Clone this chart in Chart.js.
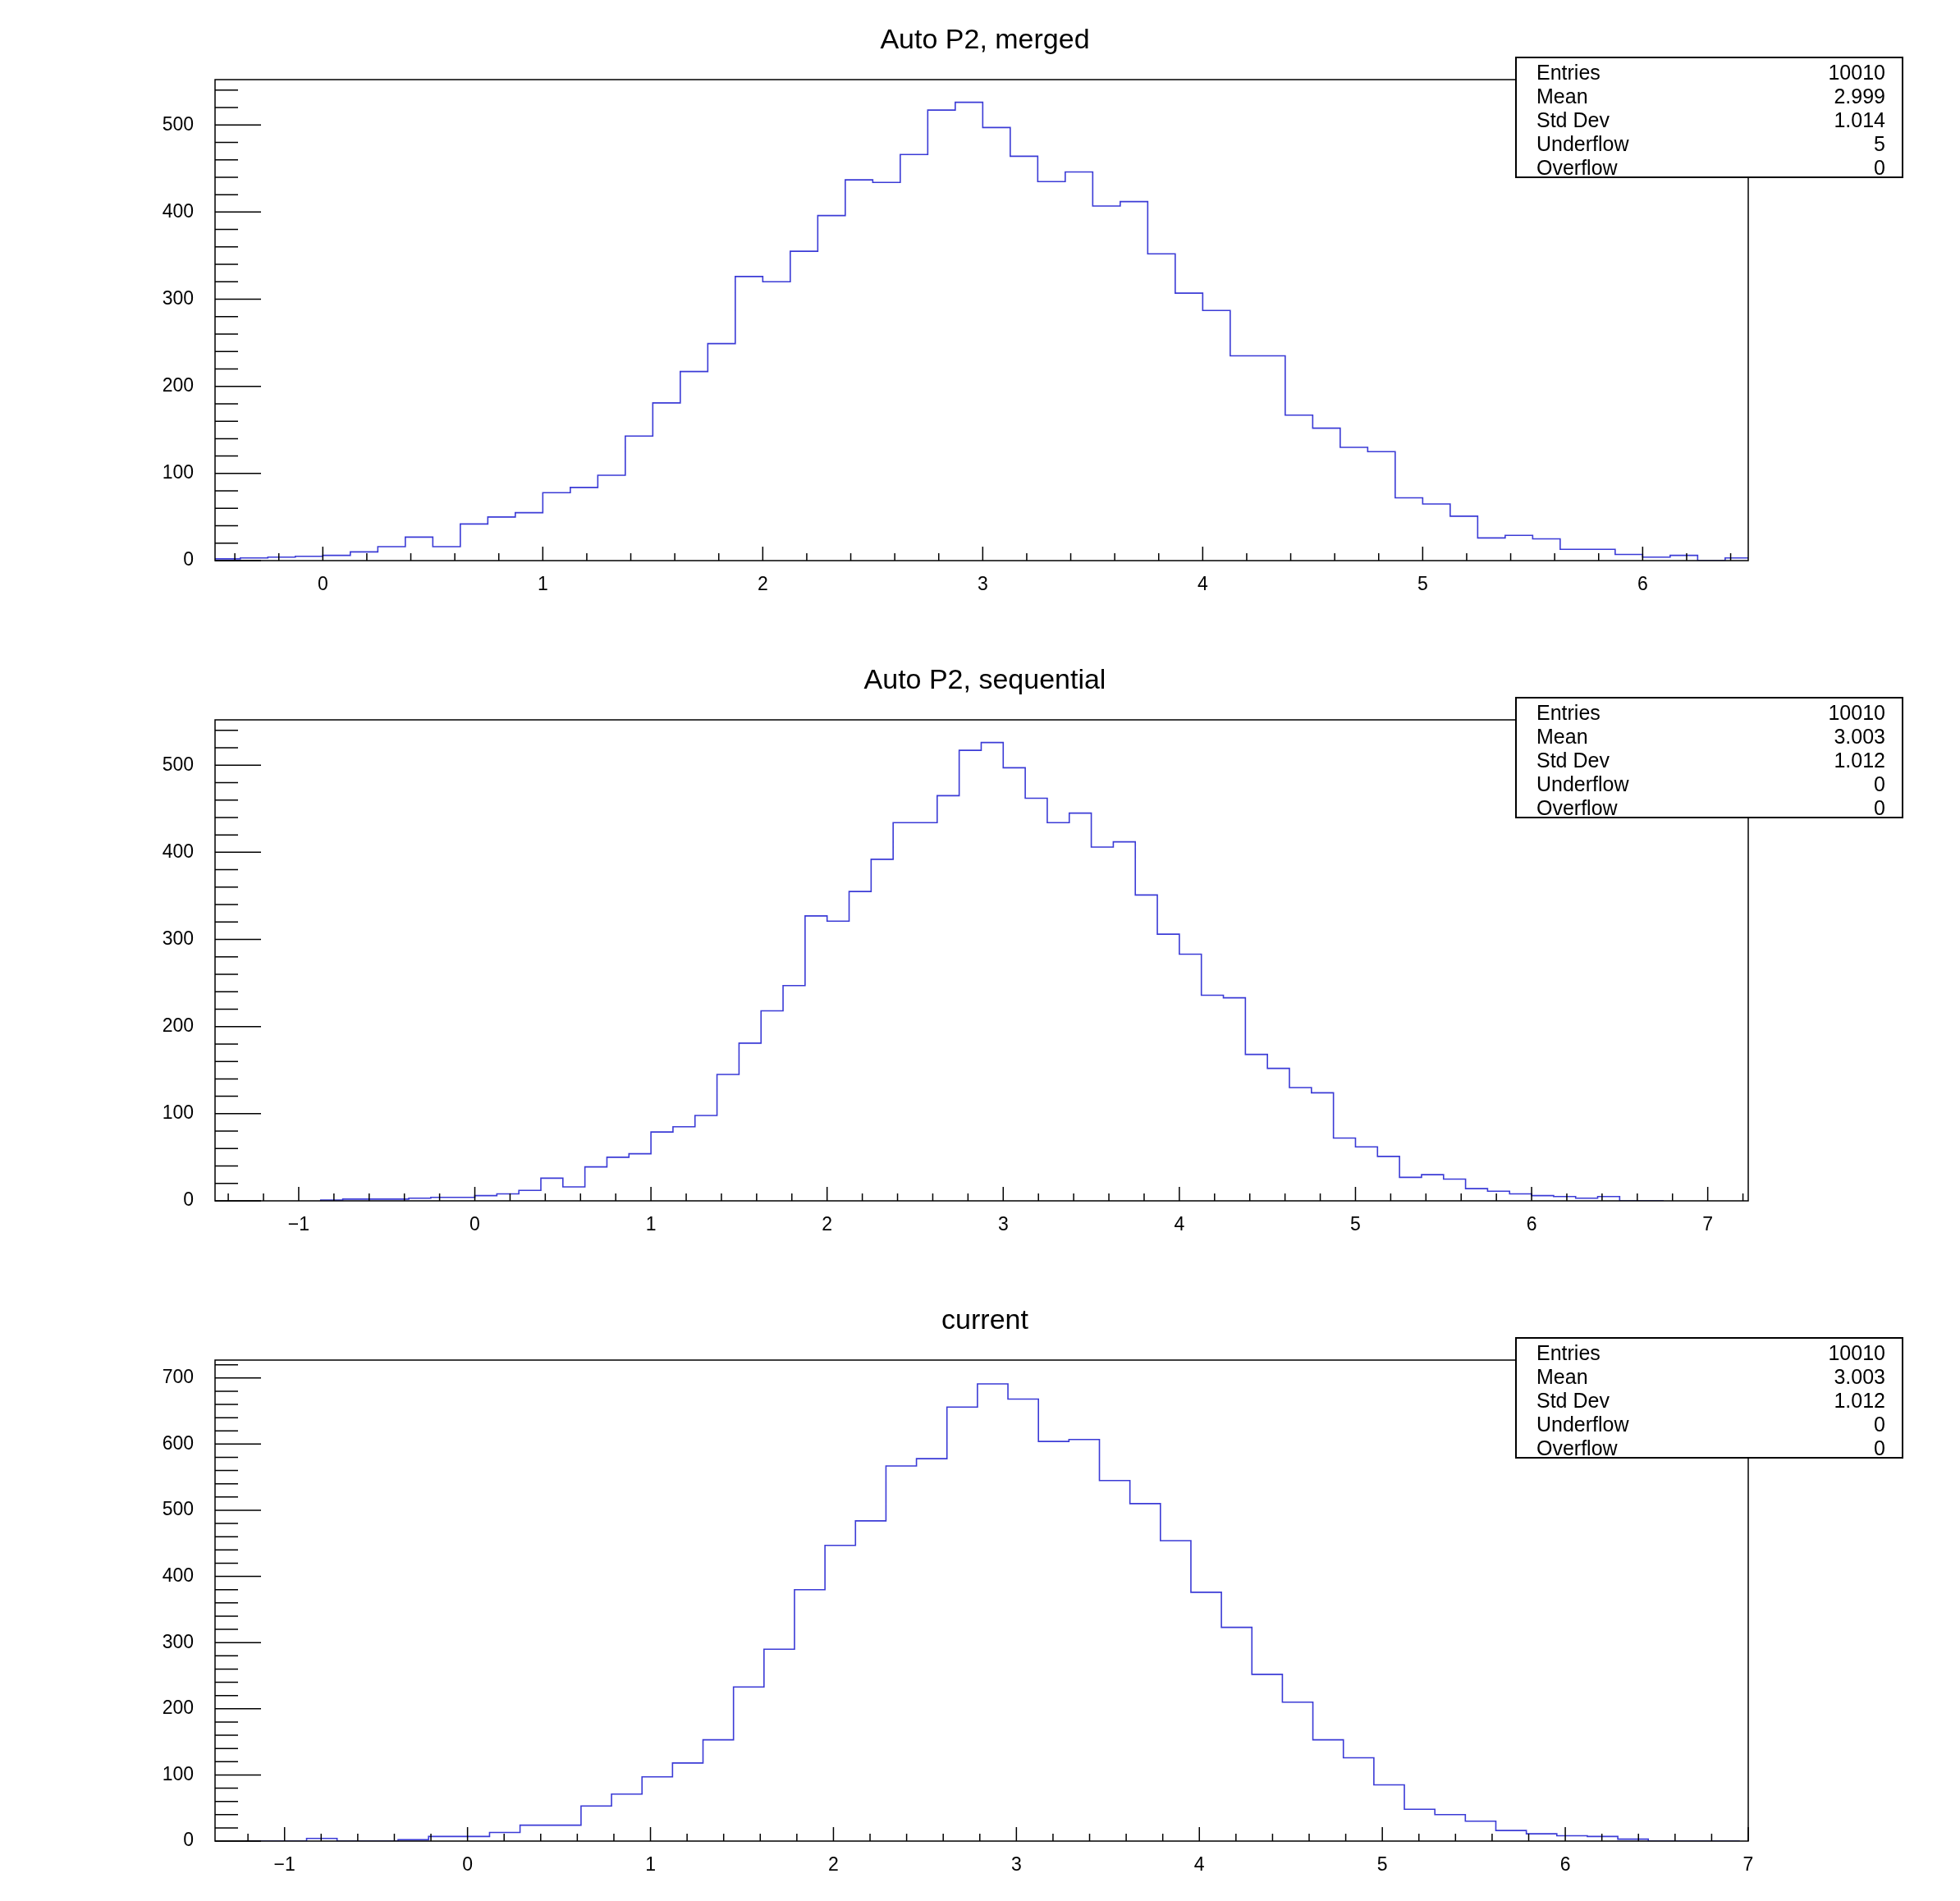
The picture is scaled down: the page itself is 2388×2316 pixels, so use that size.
<!DOCTYPE html>
<html>
<head>
<meta charset="utf-8">
<script src="https://cdn.jsdelivr.net/npm/chart.js@4/dist/chart.umd.min.js"></script>
<style>
  body { margin:0; background:#fff; width:2388px; height:2316px; position:relative; overflow:hidden; font-family:"Liberation Sans", Arial, sans-serif; }
  .pane { position:absolute; left:0; width:2388px; }
  .title { position:absolute; left:0; width:2400px; text-align:center; font-size:34px; color:#000; }
  .stats { position:absolute; left:1846px; width:473px; height:148px; border:2px solid #000; background:#fff; font-size:25px; line-height:29px; box-sizing:border-box; padding:3px 20px 0 24px; }
  .stats div { display:flex; justify-content:space-between; }
</style>
</head>
<body>
<script>
'use strict';

// 各ヒストグラムのデータ（ビン幅は一定）
const mergedMin = -0.5, mergedWidth = 0.125;
const mergedCounts = [0,2,3,4,5,6,10,16,27,16,42,50,55,78,84,98,143,181,217,249,326,320,355,396,437,434,466,517,526,497,464,435,446,407,412,352,307,287,235,235,167,152,130,125,72,65,51,26,29,25,13,13,7,4,6,0,3];
const mergedStats = [['Entries','10010'],['Mean','2.999'],['Std Dev','1.014'],['Underflow','5'],['Overflow','0']];

const seqMin = -0.875, seqWidth = 0.125;
const seqCounts = [0,1,2,2,2,3,4,4,6,8,12,26,16,39,50,54,79,85,98,145,181,218,247,327,321,355,392,434,434,465,517,526,497,462,434,445,406,412,351,306,283,236,233,168,152,130,124,72,62,51,27,30,25,14,11,8,6,5,3,5,0];
const seqStats = [['Entries','10010'],['Mean','3.003'],['Std Dev','1.012'],['Underflow','0'],['Overflow','0']];

const curMin = -1.213, curWidth = 0.16667;
const curCounts = [0,0,0,4,0,0,2,7,7,13,24,24,53,71,97,118,153,233,290,380,447,484,567,578,656,691,668,604,607,545,510,454,376,323,252,210,153,126,85,48,40,30,16,11,8,7,3,0,0];
const curStats = [['Entries','10010'],['Mean','3.003'],['Std Dev','1.012'],['Underflow','0'],['Overflow','0']];

const panels = [
  {title:'Auto P2, merged', min:mergedMin, w:mergedWidth, counts:mergedCounts, stats:mergedStats, xmin:-0.49, xmax:6.48, ymax:552, ystep:100, minorY:20},
  {title:'Auto P2, sequential', min:seqMin, w:seqWidth, counts:seqCounts, stats:seqStats, xmin:-1.475, xmax:7.23, ymax:552, ystep:100, minorY:20},
  {title:'current', min:curMin, w:curWidth, counts:curCounts, stats:curStats, xmin:-1.38, xmax:7.0, ymax:727, ystep:100, minorY:20}
];

// ROOT風の内向き目盛りと枠
const rootAxes = {
  id:'rootAxes',
  afterDraw(chart, args, o) {
    const c = chart.ctx, a = chart.chartArea, xs = chart.scales.x, ys = chart.scales.y;
    c.save();
    c.strokeStyle = '#000'; c.lineWidth = 1.5;
    c.strokeRect(a.left, a.top, a.right - a.left, a.bottom - a.top);
    c.beginPath();
    for (let v = Math.ceil(xs.min / 0.2) * 0.2; v <= xs.max + 1e-9; v += 0.2) {
      const p = xs.getPixelForValue(v);
      const major = Math.abs(v - Math.round(v)) < 1e-6;
      c.moveTo(p, a.bottom); c.lineTo(p, a.bottom - (major ? 17 : 9));
    }
    for (let v = 0; v <= ys.max; v += o.minorY) {
      const p = ys.getPixelForValue(v);
      const major = v % 100 === 0;
      c.moveTo(a.left, p); c.lineTo(a.left + (major ? 56 : 28), p);
    }
    c.stroke();
    c.restore();
  }
};

panels.forEach((pn, i) => {
  const top = i * 780;
  const h = i < 2 ? 780 : 756;
  const div = document.createElement('div');
  div.className = 'pane';
  div.style.top = top + 'px';
  div.style.height = h + 'px';
  div.innerHTML = '<canvas></canvas>';
  document.body.appendChild(div);

  const t = document.createElement('div');
  t.className = 'title'; t.style.top = (top + 28) + 'px'; t.textContent = pn.title;
  document.body.appendChild(t);

  const s = document.createElement('div');
  s.className = 'stats'; s.style.top = (top + 69) + 'px';
  s.innerHTML = pn.stats.map(r => '<div><span>' + r[0] + '</span><span>' + r[1] + '</span></div>').join('');

  // ステップ用の点（ビンの左端と最後の右端）
  const pts = pn.counts.map((v, k) => ({x: pn.min + k * pn.w, y: v}));
  pts.push({x: pn.min + pn.counts.length * pn.w, y: pn.counts[pn.counts.length - 1]});

  new Chart(div.querySelector('canvas'), {
    type: 'line',
    data: { datasets: [{ data: pts, stepped: 'after', borderColor: '#3b3bd6', borderWidth: 1.6, pointRadius: 0, fill: false }] },
    options: {
      responsive: true, maintainAspectRatio: false, animation: false,
      layout: { padding: { left: 0, right: 258, top: 97, bottom: 0 } },
      plugins: { legend: { display: false }, tooltip: { enabled: false }, rootAxes: { minorY: pn.minorY } },
      scales: {
        x: {
          type: 'linear', min: pn.xmin, max: pn.xmax,
          grid: { display: false }, border: { display: false },
          afterBuildTicks(sc) { const a = []; for (let v = Math.ceil(sc.min); v <= sc.max + 1e-6; v++) a.push({value: v}); sc.ticks = a; },
          afterFit(sc) { sc.height = h - 683; },
          ticks: { color: '#000', font: { family: 'Liberation Sans', size: 23 }, padding: 8, maxRotation: 0,
                   callback: v => (v < 0 ? '\u2212' + (-v) : String(v)) }
        },
        y: {
          min: 0, max: pn.ymax,
          grid: { display: false }, border: { display: false },
          afterBuildTicks(sc) { const a = []; for (let v = 0; v <= sc.max; v += pn.ystep) a.push({value: v}); sc.ticks = a; },
          afterFit(sc) { sc.width = 262; },
          ticks: { color: '#000', font: { family: 'Liberation Sans', size: 23 }, padding: 18 }
        }
      }
    },
    plugins: [rootAxes]
  });
  document.body.appendChild(s);
});
</script>
</body>
</html>
